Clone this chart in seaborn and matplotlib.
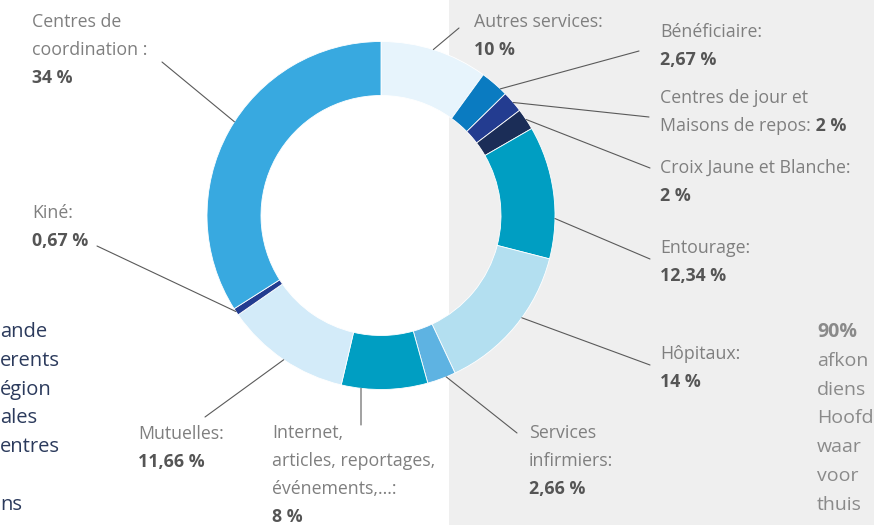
import matplotlib
matplotlib.use("Agg")
import matplotlib.pyplot as plt
import seaborn as sns
import numpy as np
from matplotlib.patches import Rectangle

# ---------------- data ----------------
categories = [
    "Autres services", "Bénéficiaire", "Centres de jour et Maisons de repos",
    "Croix Jaune et Blanche", "Entourage", "Hôpitaux", "Services infirmiers",
    "Internet, articles, reportages, événements,...", "Mutuelles", "Kiné",
    "Centres de coordination",
]
values = [10, 2.67, 2, 2, 12.34, 14, 2.66, 8, 11.66, 0.67, 34]
value_labels = ["10 %", "2,67 %", "2 %", "2 %", "12,34 %", "14 %", "2,66 %",
                "8 %", "11,66 %", "0,67 %", "34 %"]
label_lines = [
    ["Autres services:"],
    ["Bénéficiaire:"],
    ["Centres de jour et", "Maisons de repos:"],
    ["Croix Jaune et Blanche:"],
    ["Entourage:"],
    ["Hôpitaux:"],
    ["Services", "infirmiers:"],
    ["Internet,", "articles, reportages,", "événements,...:"],
    ["Mutuelles:"],
    ["Kiné:"],
    ["Centres de", "coordination :"],
]
colors = ["#e7f4fc", "#0a7bc1", "#233c90", "#1b2d57", "#009ec2", "#b3dff0",
          "#5eb3e2", "#009ec2", "#d3ebf9", "#233c90", "#38a9e0"]

left_text = ["ande", "erents", "égion", "ales", "entres", "", "ns"]
right_text = ["90%", "afkon", "diens", "Hoofd", "waar", "voor", "thuis"]

# ---------------- layout ----------------
W, H = 874, 525
def Y(y):
    return H - y

sns.set_theme(style="white")
plt.rcParams["font.family"] = ["Open Sans", "DejaVu Sans"]

fig = plt.figure(figsize=(W / 100, H / 100), dpi=100)
ax = fig.add_axes([0, 0, 1, 1])

ax.add_patch(Rectangle((449, 0), W - 449, H, facecolor="#efefef",
                       edgecolor="none", zorder=0))

cx, cy, R, ring = 381, 215.5, 174, 54
ax.pie(values, colors=colors, startangle=90, counterclock=False,
       center=(cx, Y(cy)), radius=R, frame=True,
       wedgeprops=dict(width=ring, edgecolor="white", linewidth=0.6))
ax.set_xlim(0, W)
ax.set_ylim(0, H)
ax.set_aspect("equal")
ax.axis("off")

# leader lines: angle (deg clockwise from top) on outer ring -> end point (px)
leaders = [
    (17.5, (459, 28)),
    (43.3, (639, 51)),
    (49.5, (649, 117)),
    (56.5, (650, 168)),
    (91.0, (650, 259)),
    (126.0, (650, 365)),
    (158.0, (517, 433)),
    (186.6, (361, 425)),
    (214.0, (205, 417)),
    (236.5, (97, 246)),
    (302.6, (162, 62)),
]
for ang, (ex, ey) in leaders:
    a = np.deg2rad(ang)
    sx, sy = cx + R * np.sin(a), cy - R * np.cos(a)
    ax.plot([sx, ex], [Y(sy), Y(ey)], color="#5a5a5a", lw=0.8, zorder=3)

# label positions: (x, y of first line), line pitch
label_pos = [
    (474, 22), (660, 32), (660, 98), (660, 168), (660, 248), (660, 354),
    (529, 433), (272, 433), (138, 434), (32, 213), (32, 22),
]
pitch = 28
fs = 12.8
lab_col = "#7f7f7f"
val_col = "#555555"
for i, (x, y) in enumerate(label_pos):
    lines = label_lines[i]
    t = None
    for j, ln in enumerate(lines):
        t = ax.text(x, Y(y + j * pitch), ln, color=lab_col, fontsize=fs,
                    ha="left", va="center")
    if i == 2:
        ax.annotate(" " + value_labels[i], xy=(1, 0.5), xycoords=t,
                    ha="left", va="center", color=val_col, fontsize=fs,
                    fontweight="bold")
    else:
        ax.text(x, Y(y + len(lines) * pitch), value_labels[i], color=val_col,
                fontsize=fs, fontweight="bold", ha="left", va="center")

# cropped surrounding text
for j, s in enumerate(left_text):
    if s:
        ax.text(0, Y(332 + j * 28.8), s, color="#2b3a5c", fontsize=14.5,
                ha="left", va="center")
for j, s in enumerate(right_text):
    ax.text(817, Y(332 + j * 28.8), s, color="#8a8a8a", fontsize=14,
            ha="left", va="center",
            fontweight="bold" if j == 0 else "normal")

fig.savefig("out.png", dpi=100)
